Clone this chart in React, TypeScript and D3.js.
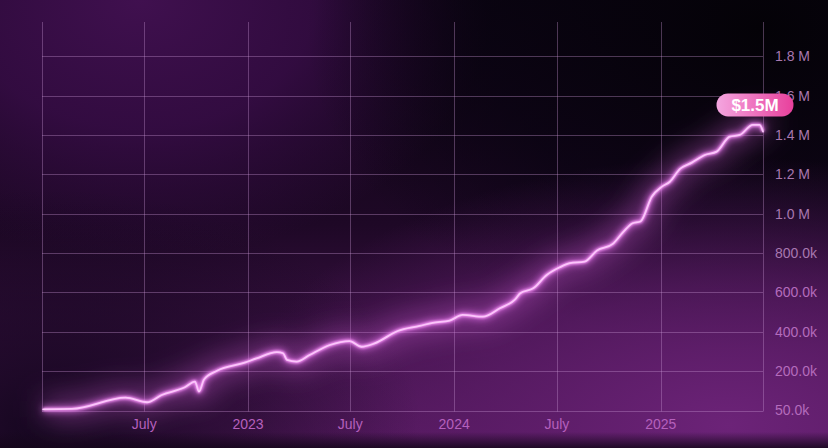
import React from "react";
import * as d3 from "d3";

const dates: string[] = [
  "2022-01-03","2022-02-23","2022-05-29","2022-07-06","2022-08-01","2022-09-11","2022-09-29","2022-10-06",
  "2022-10-15","2022-11-07","2022-12-26","2023-01-16","2023-02-21","2023-03-04","2023-03-11","2023-03-28",
  "2023-04-20","2023-05-26","2023-06-30","2023-07-21","2023-08-13","2023-09-23","2023-11-01","2023-11-24",
  "2023-12-24","2024-01-16","2024-02-21","2024-03-22","2024-04-18","2024-04-27","2024-05-20","2024-06-13",
  "2024-07-06","2024-07-24","2024-08-19","2024-09-10","2024-10-08","2024-10-27","2024-11-12","2024-11-26",
  "2024-12-16","2025-01-03","2025-01-17","2025-02-04","2025-02-25","2025-03-20","2025-04-10","2025-05-03",
  "2025-05-21","2025-06-13","2025-06-25","2025-07-01",
];
const values: number[] = [
  6000, 8000, 65000, 42000, 79000, 118000, 147000, 96000,
  158000, 202000, 243000, 265000, 297000, 291000, 257000, 248000,
  282000, 333000, 353000, 324000, 341000, 404000, 430000, 446000,
  457000, 486000, 477000, 520000, 565000, 596000, 621000, 689000,
  728000, 749000, 757000, 813000, 847000, 909000, 952000, 961000,
  1087000, 1138000, 1163000, 1228000, 1260000, 1299000, 1316000, 1392000,
  1401000, 1452000, 1452000, 1418000,
];
const yTickValues: number[] = [0, 200000, 400000, 600000, 800000, 1000000, 1200000, 1400000, 1600000, 1800000];
const yTickLabels: string[] = ["50.0k", "200.0k", "400.0k", "600.0k", "800.0k", "1.0 M", "1.2 M", "1.4 M", "1.6 M", "1.8 M"];
const xTickDates: string[] = ["2022-07-01", "2023-01-01", "2023-07-01", "2024-01-01", "2024-07-01", "2025-01-01"];
const xTickLabels: string[] = ["July", "2023", "July", "2024", "July", "2025"];
const xGridDates: string[] = ["2022-01-01", "2022-07-01", "2023-01-01", "2023-07-01", "2024-01-01", "2024-07-01", "2025-01-01", "2025-07-01"];
const badgeLabel = "$1.5M";

const W = 828;
const H = 448;
const M = { left: 42, right: 65, top: 22, bottom: 37.5 };

export default function App() {
  const parse = d3.utcParse("%Y-%m-%d");
  const data = dates.map((d, i) => ({ date: parse(d) as Date, value: values[i] }));
  const x = d3
    .scaleUtc()
    .domain([parse("2022-01-01") as Date, parse("2025-07-01") as Date])
    .range([M.left, W - M.right]);
  const y = d3.scaleLinear().domain([0, 1975000]).range([H - M.bottom, M.top]);
  const line = d3
    .line<{ date: Date; value: number }>()
    .x((d) => x(d.date))
    .y((d) => y(d.value))
    .curve(d3.curveMonotoneX);
  const path = line(data) || "";
  const last = data[data.length - 1];
  const maxV = d3.max(values) as number;
  const bx = x(last.date) - 8;
  const by = y(maxV) - 20;
  const font = "'Liberation Sans', Arial, Helvetica, sans-serif";
  const gridColor = "rgba(200,150,210,0.36)";

  return (
    <div style={{ position: "fixed", left: 0, top: 0, width: W, height: H, overflow: "hidden" }}>
      <svg width={W} height={H} style={{ display: "block" }}>
        <defs>
          <linearGradient id="base" x1="0" y1="0" x2="0" y2="1">
            <stop offset="0" stopColor="#0b0410" />
            <stop offset="0.5" stopColor="#1e0826" />
            <stop offset="1" stopColor="#55195f" />
          </linearGradient>
          <radialGradient id="tl" cx="0.14" cy="0.0" r="0.5" gradientTransform="translate(0.05,0) scale(0.85,1.15)">
            <stop offset="0" stopColor="#40104f" stopOpacity="1" />
            <stop offset="0.5" stopColor="#3a0d4a" stopOpacity="0.8" />
            <stop offset="1" stopColor="#3a0d4a" stopOpacity="0" />
          </radialGradient>
          <radialGradient id="tr" cx="0.92" cy="0.05" r="0.55" gradientTransform="scale(1,1.3)">
            <stop offset="0" stopColor="#040207" stopOpacity="1" />
            <stop offset="0.6" stopColor="#080310" stopOpacity="0.7" />
            <stop offset="1" stopColor="#080310" stopOpacity="0" />
          </radialGradient>
          <radialGradient id="br" cx="0.88" cy="0.95" r="0.6">
            <stop offset="0" stopColor="#6c2378" stopOpacity="1" />
            <stop offset="0.5" stopColor="#5e1d6a" stopOpacity="0.7" />
            <stop offset="1" stopColor="#5e1d6a" stopOpacity="0" />
          </radialGradient>
          <radialGradient id="bl" cx="0.06" cy="0.8" r="0.45" gradientTransform="scale(1,1.2)">
            <stop offset="0" stopColor="#10051a" stopOpacity="0.95" />
            <stop offset="1" stopColor="#10051a" stopOpacity="0" />
          </radialGradient>
          <linearGradient id="bottom" x1="0" y1="0" x2="0" y2="1">
            <stop offset="0" stopColor="#14061a" stopOpacity="0" />
            <stop offset="1" stopColor="#14061a" stopOpacity="0.85" />
          </linearGradient>
          <linearGradient id="pill" x1="0" y1="0" x2="1" y2="0">
            <stop offset="0" stopColor="#f4a6e0" />
            <stop offset="1" stopColor="#e8409c" />
          </linearGradient>
          <filter id="blurBig" x="-20%" y="-50%" width="140%" height="200%">
            <feGaussianBlur stdDeviation="14" />
          </filter>
          <filter id="blurMid" x="-10%" y="-30%" width="120%" height="160%">
            <feGaussianBlur stdDeviation="3.5" />
          </filter>
          <filter id="blurSmall" x="-10%" y="-30%" width="120%" height="160%">
            <feGaussianBlur stdDeviation="1.2" />
          </filter>
        </defs>

        <rect x={0} y={0} width={W} height={H} fill="url(#base)" />
        <rect x={0} y={0} width={W} height={H} fill="url(#tl)" />
        <rect x={0} y={0} width={W} height={H} fill="url(#tr)" />
        <rect x={0} y={0} width={W} height={H} fill="url(#br)" />
        <rect x={0} y={0} width={W} height={H} fill="url(#bl)" />
        <rect x={0} y={432} width={W} height={H - 432} fill="url(#bottom)" />

        {yTickValues.map((v) => (
          <line
            key={"h" + v}
            x1={M.left}
            x2={W - M.right}
            y1={Math.round(y(v)) + 0.5}
            y2={Math.round(y(v)) + 0.5}
            stroke={gridColor}
            strokeWidth={1}
          />
        ))}
        {xGridDates.map((d) => {
          const xx = Math.round(x(parse(d) as Date)) + 0.5;
          return (
            <line key={"v" + d} x1={xx} x2={xx} y1={M.top} y2={Math.round(y(0)) + 0.5} stroke={gridColor} strokeWidth={1} />
          );
        })}

        <path d={path} fill="none" stroke="#d060d8" strokeOpacity={0.45} strokeWidth={22} filter="url(#blurBig)" strokeLinejoin="round" />
        <path d={path} fill="none" stroke="#e070e8" strokeOpacity={0.8} strokeWidth={6} filter="url(#blurMid)" strokeLinejoin="round" />
        <path d={path} fill="none" stroke="#f090f0" strokeWidth={3.5} filter="url(#blurSmall)" strokeLinejoin="round" />
        <path d={path} fill="none" stroke="#fbc6fb" strokeWidth={1.8} strokeLinejoin="round" strokeLinecap="round" />

        {yTickValues.map((v, i) => (
          <text
            key={"yl" + v}
            x={W - M.right + 12}
            y={y(v)}
            dy="0.35em"
            fontFamily={font}
            fontSize={14}
            fill={i < 4 ? "#b46cbc" : "#a878b0"}
          >
            {yTickLabels[i]}
          </text>
        ))}
        {xTickDates.map((d, i) => (
          <text
            key={"xl" + d}
            x={x(parse(d) as Date)}
            y={y(0) + 14}
            dy="0.35em"
            textAnchor="middle"
            fontFamily={font}
            fontSize={14}
            fill="#b560bd"
          >
            {xTickLabels[i]}
          </text>
        ))}

        <rect x={bx - 38.5} y={by - 11.5} width={77} height={23} rx={11.5} fill="url(#pill)" />
        <text
          x={bx}
          y={by}
          dy="0.36em"
          textAnchor="middle"
          fontFamily={font}
          fontWeight="bold"
          fontSize={17}
          fill="#ffffff"
        >
          {badgeLabel}
        </text>
      </svg>
    </div>
  );
}
